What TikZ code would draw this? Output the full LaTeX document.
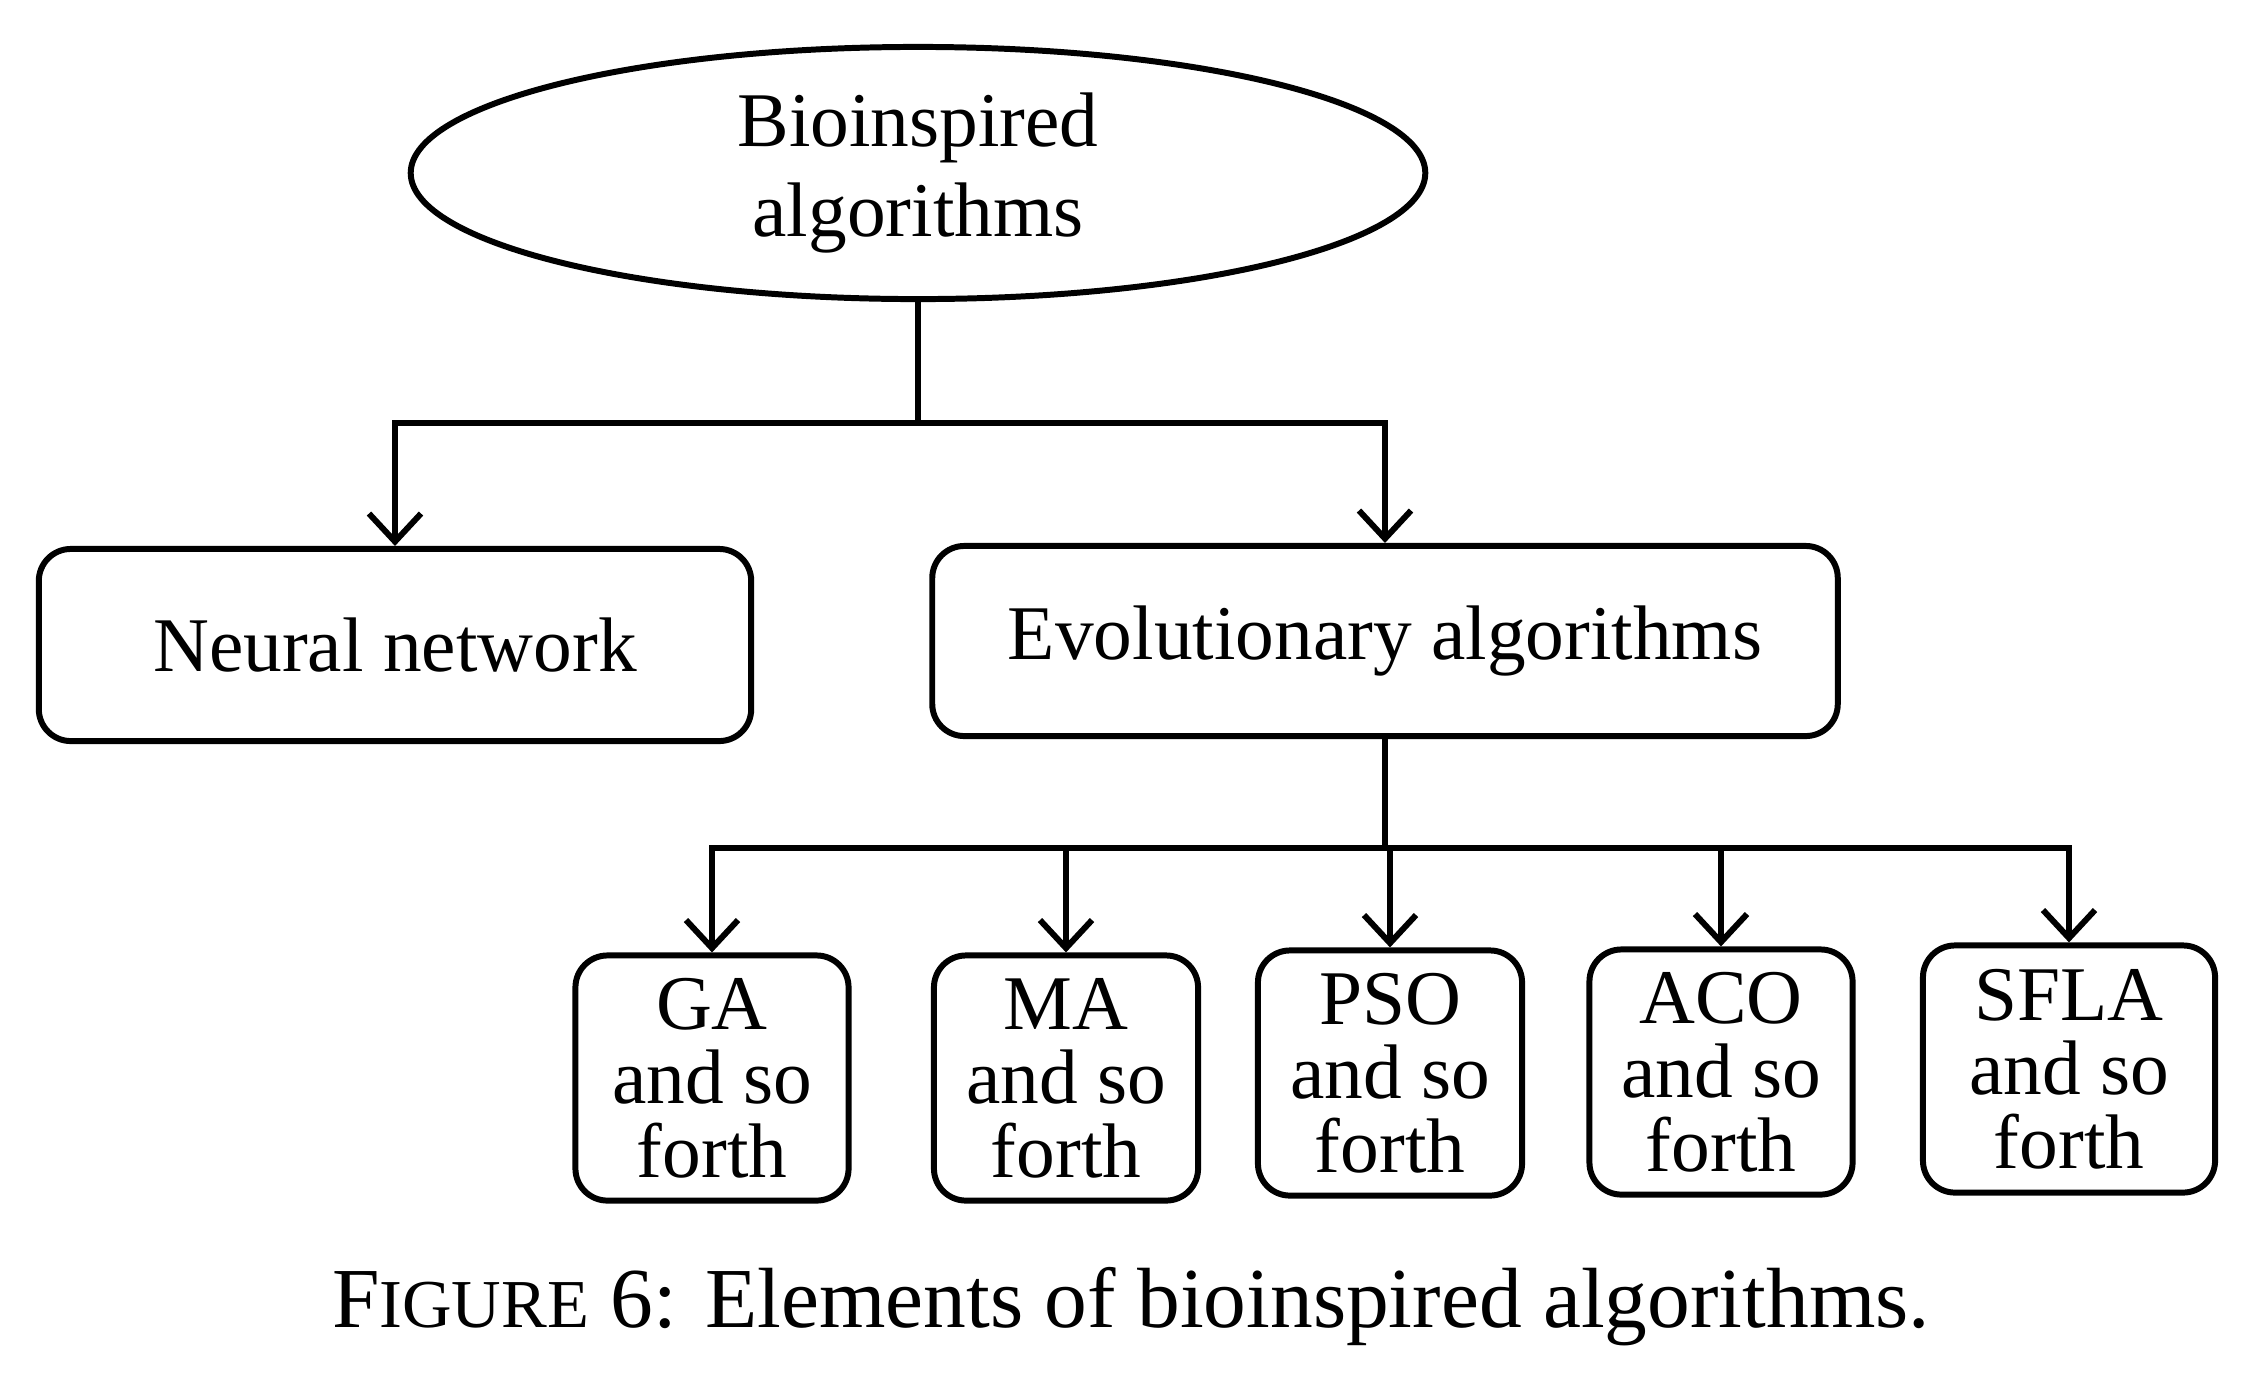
\documentclass[tikz,border=0pt]{standalone}
\usepackage{fontspec}
\setmainfont{Liberation Serif}
\usetikzlibrary{arrows.meta,shapes.geometric,positioning}

\begin{document}
\begin{tikzpicture}[x=0.01cm,y=-0.01cm,
    every node/.style={font=\fontsize{22}{21}\selectfont,align=center},
    box/.style={draw,line width=1.7pt,rounded corners=0.32cm,inner sep=0pt},
    link/.style={line width=1.7pt},
    arr/.style={link,-{Straight Barb[length=0.28cm,width=0.52cm]}}]

\useasboundingbox (0,0) rectangle (2264,1384);

% Top of the tree
\node[draw,ellipse,line width=1.7pt,inner sep=0pt,minimum width=10.14cm,minimum height=2.52cm,
      font=\fontsize{22}{25.5}\selectfont] (bio) at (918,173) {Bioinspired\\algorithms};

% Second level
\node[box,minimum width=7.12cm,minimum height=1.92cm] (nn) at (395,645) {Neural network};
\node[box,minimum width=9.05cm,minimum height=1.90cm] (ea) at (1385,641) {Evolutionary algorithms};

% Third level
\node[box,minimum width=2.73cm,minimum height=2.45cm] (ga) at (712,1078) {GA\\and so\\forth};
\node[box,minimum width=2.64cm,minimum height=2.45cm] (ma) at (1066,1078) {MA\\and so\\forth};
\node[box,minimum width=2.64cm,minimum height=2.45cm] (pso) at (1390,1073) {PSO\\and so\\forth};
\node[box,minimum width=2.63cm,minimum height=2.45cm] (aco) at (1721,1072) {ACO\\and so\\forth};
\node[box,minimum width=2.92cm,minimum height=2.47cm] (sfla) at (2069,1069) {SFLA\\and so\\forth};

% Connectors
\coordinate (split) at (918,423);
\draw[link] (bio) -- (split);
\draw[arr] (split) -| (nn.north);
\draw[arr] (split) -| (ea.north);

\coordinate (esplit) at (1385,848);
\draw[link] (ea) -- (esplit);
\foreach \n in {ga,ma,pso,aco,sfla}
    \draw[arr] (esplit) -| (\n.north);

% Caption
\node[font=\fontsize{24.3}{24.3}\selectfont] (cap) at (1131,1307)
    {F{\fontsize{19.5}{19.5}\selectfont IGURE} 6: Elements of bioinspired algorithms.};

\end{tikzpicture}
\end{document}
